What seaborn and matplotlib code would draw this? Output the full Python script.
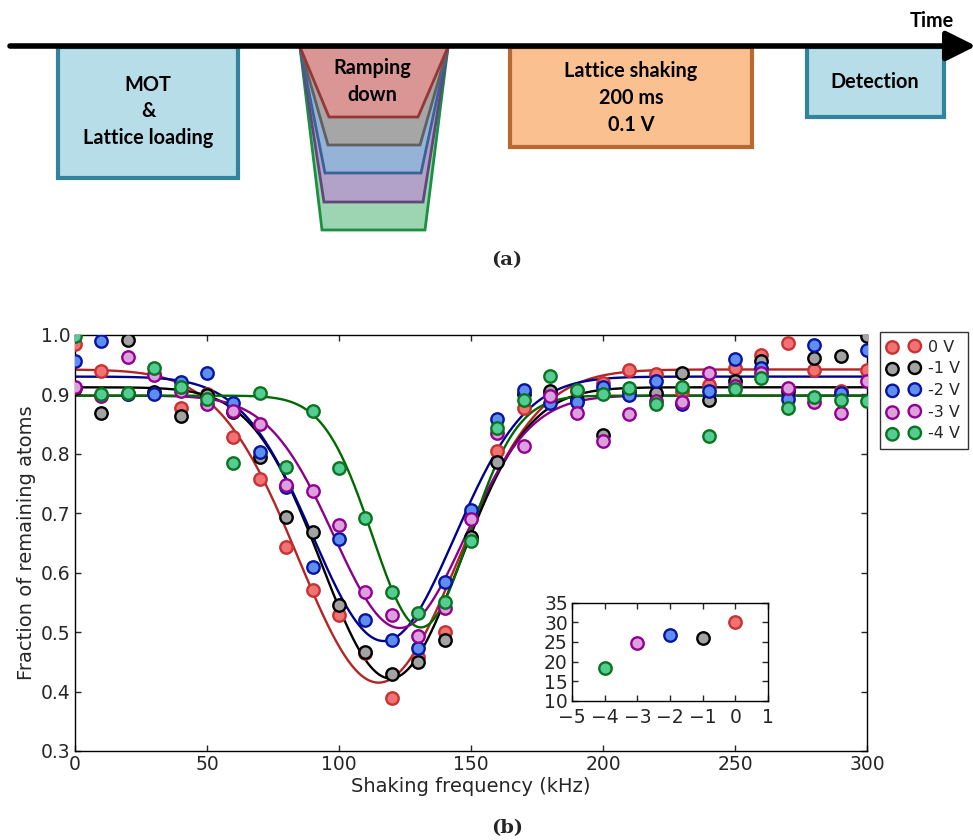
import numpy as np
import pandas as pd
import matplotlib
matplotlib.use("Agg")
import matplotlib.pyplot as plt
import seaborn as sns
from matplotlib.patches import Rectangle, Polygon

# ---------------- data ----------------
freq_khz = [0, 10, 20, 30, 40, 50, 60, 70, 80, 90, 100, 110, 120, 130, 140, 150,
            160, 170, 180, 190, 200, 210, 220, 230, 240, 250, 260, 270, 280, 290, 300]
series_labels = ["0 V", "-1 V", "-2 V", "-3 V", "-4 V"]

frac_0V = [0.985, 0.940, 0.900, 0.935, 0.877, 0.900, 0.829, 0.757, 0.643, 0.571, 0.529,
           0.465, 0.389, 0.459, 0.501, 0.657, 0.804, 0.877, 0.900, 0.905, 0.920, 0.941,
           0.934, 0.905, 0.916, 0.945, 0.967, 0.986, 0.941, 0.905, 0.941]
frac_m1V = [0.910, 0.868, 0.992, 0.904, 0.864, 0.899, 0.870, 0.795, 0.694, 0.668, 0.546,
            0.467, 0.429, 0.449, 0.486, 0.660, 0.787, 0.900, 0.906, 0.890, 0.832, 0.905,
            0.903, 0.936, 0.891, 0.922, 0.957, 0.905, 0.962, 0.965, 0.998]
frac_m2V = [0.957, 0.990, 0.900, 0.900, 0.921, 0.936, 0.885, 0.803, 0.745, 0.609, 0.657,
            0.521, 0.486, 0.473, 0.584, 0.705, 0.858, 0.907, 0.886, 0.888, 0.913, 0.899,
            0.922, 0.884, 0.906, 0.959, 0.945, 0.892, 0.984, 0.902, 0.975]
frac_m3V = [0.912, 0.898, 0.963, 0.933, 0.905, 0.884, 0.872, 0.850, 0.747, 0.737, 0.680,
            0.568, 0.529, 0.493, 0.540, 0.691, 0.835, 0.813, 0.897, 0.868, 0.822, 0.867,
            0.889, 0.888, 0.936, 0.914, 0.936, 0.910, 0.888, 0.868, 0.923]
frac_m4V = [0.998, 0.900, 0.902, 0.945, 0.912, 0.892, 0.785, 0.903, 0.778, 0.872, 0.777,
            0.692, 0.568, 0.532, 0.550, 0.654, 0.843, 0.890, 0.931, 0.907, 0.900, 0.910,
            0.884, 0.912, 0.830, 0.909, 0.928, 0.878, 0.895, 0.891, 0.889]

# Gaussian-dip fit parameters
fit_baseline = [0.942, 0.912, 0.930, 0.898, 0.898]
fit_depth = [0.527, 0.490, 0.445, 0.391, 0.390]
fit_center = [115.0, 119.5, 117.0, 123.0, 131.0]
fit_sigma = [30.2, 26.1, 26.8, 24.8, 18.3]

# inset: fitted width vs voltage
inset_voltage = [-4, -3, -2, -1, 0]
inset_width = [18.3, 24.8, 26.8, 26.1, 30.2]

face_colors = ["#f07272", "#a3a3a3", "#5d8ff0", "#dda0dd", "#55cc92"]
edge_colors = ["#c83232", "#000000", "#0a14a0", "#920092", "#0a7420"]
line_colors = ["#b52424", "#000000", "#00008f", "#8a008a", "#006a00"]

# ---------------- figure ----------------
sns.set_style("ticks")
plt.rcParams["font.family"] = ["DejaVu Sans"]
fig = plt.figure(figsize=(9.73, 8.4), dpi=100)

# ---- panel (a): timing diagram in pixel coords ----
axd = fig.add_axes([0, 0, 1, 1], zorder=-1)
axd.set_xlim(0, 973)
axd.set_ylim(840, 0)
axd.axis("off")

lb_fill, lb_edge = "#b7dde8", "#31849b"
axd.add_patch(Rectangle((58, 47), 180, 131, fc=lb_fill, ec=lb_edge, lw=3))
axd.add_patch(Rectangle((807, 47), 137, 70, fc=lb_fill, ec=lb_edge, lw=3))
axd.add_patch(Rectangle((510, 47), 242, 100, fc="#fac090", ec="#b8692f", lw=3))

trap = [  # (bottom y, bottom-left x, bottom-right x, fill, edge)
    (230, 322, 425, "#9dd4b2", "#1a9040"),
    (202, 324, 423, "#b3a2c7", "#5f497a"),
    (173, 325, 421, "#95b3d7", "#3a6298"),
    (145, 328, 420, "#a6a6a6", "#606060"),
    (117, 329, 418, "#d99694", "#953735"),
]
for yb, xl, xr, fc, ec in trap:
    axd.add_patch(Polygon([(300, 47), (448, 47), (xr, yb), (xl, yb)],
                          closed=True, fc=fc, ec=ec, lw=2))

axd.annotate("", xy=(976, 46), xytext=(10, 46), annotation_clip=False,
             arrowprops=dict(arrowstyle="-|>,head_length=0.9,head_width=0.45",
                             lw=4, color="black", shrinkA=0, shrinkB=0,
                             mutation_scale=20))

dfont = dict(family="Lato", weight="bold", fontsize=14.3, ha="center",
             va="center", color="black")
for txt, x, y in [("MOT", 148, 85), ("&", 148, 111), ("Lattice loading", 148, 138),
                  ("Ramping", 372, 68), ("down", 372, 95),
                  ("Lattice shaking", 631, 71), ("200 ms", 631, 98), ("0.1 V", 631, 125),
                  ("Detection", 875, 82), ("Time", 932, 21)]:
    axd.text(x, y, txt, **dfont)
axd.text(507, 260, "(a)", family="DejaVu Serif", weight="bold", fontsize=14,
         ha="center", va="center")
axd.text(507, 828, "(b)", family="DejaVu Serif", weight="bold", fontsize=14,
         ha="center", va="center")

# ---- panel (b): main plot ----
ax = fig.add_axes([75 / 973, 89 / 840, 792 / 973, 416 / 840])
all_series = [frac_0V, frac_m1V, frac_m2V, frac_m3V, frac_m4V]
f_fine = np.linspace(0, 300, 601)
for i, vals in enumerate(all_series):
    curve = fit_baseline[i] - fit_depth[i] * np.exp(
        -(f_fine - fit_center[i]) ** 2 / (2 * fit_sigma[i] ** 2))
    sns.lineplot(x=f_fine, y=curve, ax=ax, color=line_colors[i], lw=1.7,
                 legend=False, zorder=2)
for i, vals in enumerate(all_series):
    df = pd.DataFrame({"f": freq_khz, "frac": vals})
    sns.scatterplot(data=df, x="f", y="frac", ax=ax, s=80, color=face_colors[i],
                    edgecolor=edge_colors[i], linewidth=1.7, label=series_labels[i],
                    zorder=3)

ax.set_xlim(0, 300)
ax.set_ylim(0.3, 1.0)
ax.set_xticks([0, 50, 100, 150, 200, 250, 300])
ax.set_yticks([0.3, 0.4, 0.5, 0.6, 0.7, 0.8, 0.9, 1.0])
ax.tick_params(direction="in", top=True, right=True, length=4, width=1,
               labelsize=13.5, pad=3)
for sp in ax.spines.values():
    sp.set_color("black")
    sp.set_linewidth(1)
ax.set_xlabel("Shaking frequency (kHz)", fontsize=14, labelpad=2)
ax.set_ylabel("Fraction of remaining atoms", fontsize=14, labelpad=4)

leg = ax.legend(loc="upper left", bbox_to_anchor=(1.016, 1.008), borderaxespad=0,
                scatterpoints=2, fontsize=11.5, fancybox=False, frameon=True,
                edgecolor="black", handletextpad=0.5, labelspacing=0.42,
                borderpad=0.5)
leg.get_frame().set_linewidth(1)

# ---- inset ----
axi = fig.add_axes([572 / 973, 139.3 / 840, 196 / 973, 98 / 840])
order = [4, 3, 2, 1, 0]  # inset points are listed -4 V .. 0 V
for k, (v, w) in enumerate(zip(inset_voltage, inset_width)):
    j = order[k]
    sns.scatterplot(x=[v], y=[w], ax=axi, s=80, color=face_colors[j],
                    edgecolor=edge_colors[j], linewidth=1.7, zorder=3, legend=False)
axi.set_xlim(-5, 1)
axi.set_ylim(10, 35)
axi.set_xticks([-5, -4, -3, -2, -1, 0, 1])
axi.set_yticks([10, 15, 20, 25, 30, 35])
axi.tick_params(direction="in", top=True, right=True, length=4, width=1,
                labelsize=13.5, pad=2)
axi.tick_params(axis="x", pad=5)
axi.tick_params(axis="y", pad=3)
for sp in axi.spines.values():
    sp.set_color("black")
    sp.set_linewidth(1)

fig.savefig("out.png", dpi=100)
